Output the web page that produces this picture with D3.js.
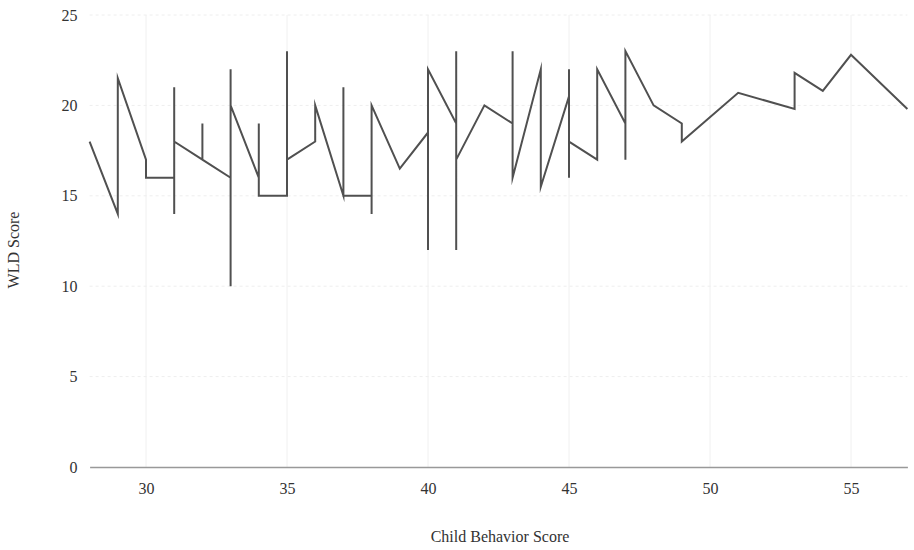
<!DOCTYPE html>
<html>
<head>
<meta charset="utf-8">
<script src="https://cdn.jsdelivr.net/npm/d3@7/dist/d3.min.js"></script>
<style>
  html, body { margin: 0; padding: 0; background: #fff; }
  svg { display: block; }
  text { font-family: "Liberation Serif", "DejaVu Serif", serif; fill: #333; }
</style>
</head>
<body>
<svg id="chart" width="914" height="550"></svg>
<script>
// Child Behavior Score (x) and WLD Score (y), in drawing order
const behaviorScores = [28,29,29,30,30,31,31,31,31,32,32,32,33,33,33,33,34,34,34,35,35,35,36,36,37,37,37,38,38,38,39,40,40,40,41,41,41,41,42,43,43,43,44,44,45,45,45,45,46,46,47,47,47,48,49,49,51,53,53,54,55,57];
const wldScores      = [18,14,21.5,17,16,16,14,21,18,17,19,17,16,10,22,20,16,19,15,15,23,17,18,20,15,21,15,15,14,20,16.5,18.5,12,22,19,23,12,17,20,19,23,16,22,15.5,20.5,22,16,18,17,22,19,17,23,20,19,18,20.7,19.8,21.8,20.8,22.8,19.8];
const xTicks = [30,35,40,45,50,55];
const yTicks = [0,5,10,15,20,25];
const xTitle = "Child Behavior Score";
const yTitle = "WLD Score";

const svg = d3.select("#chart");
const x = d3.scaleLinear().domain([28, 57]).range([89.6, 907.4]);
const y = d3.scaleLinear().domain([0, 25]).range([467, 15]);

const points = behaviorScores.map((v, i) => [v, wldScores[i]]);

// faint grid
svg.append("g").selectAll("line.vg").data(xTicks).join("line")
  .attr("x1", d => x(d)).attr("x2", d => x(d))
  .attr("y1", y(25)).attr("y2", y(0))
  .attr("stroke", "#f0f0f0").attr("stroke-width", 1);
svg.append("g").selectAll("line.hg").data(yTicks.filter(d => d > 0)).join("line")
  .attr("x1", x(28)).attr("x2", x(57))
  .attr("y1", d => y(d)).attr("y2", d => y(d))
  .attr("stroke", "#eeeeee").attr("stroke-width", 1).attr("stroke-dasharray", "3,3");

// x axis
const xAxis = d3.axisBottom(x).tickValues(xTicks).tickSize(0).tickPadding(16);
const gx = svg.append("g").attr("transform", `translate(0,${y(0)})`).call(xAxis);
gx.select(".domain").attr("stroke", "#999").attr("stroke-width", 1.5);
gx.selectAll("text").attr("font-size", 16).attr("fill", "#333")
  .style("font-family", '"Liberation Serif", serif');

// y axis
const yAxis = d3.axisLeft(y).tickValues(yTicks).tickSize(0).tickPadding(6);
const gy = svg.append("g").attr("transform", `translate(${x(28) - 6},0)`).call(yAxis);
gy.select(".domain").remove();
gy.selectAll("text").attr("font-size", 16).attr("fill", "#333")
  .style("font-family", '"Liberation Serif", serif');

// line
const line = d3.line().x(d => x(d[0])).y(d => y(d[1]));
svg.append("path").datum(points)
  .attr("d", line)
  .attr("fill", "none")
  .attr("stroke", "#505050")
  .attr("stroke-width", 2)
  .attr("stroke-linejoin", "miter")
  .attr("stroke-miterlimit", 10);

// titles
svg.append("text").attr("x", 500).attr("y", 542)
  .attr("text-anchor", "middle").attr("font-size", 16).text(xTitle);
svg.append("text").attr("transform", "translate(19,250) rotate(-90)")
  .attr("text-anchor", "middle").attr("font-size", 16).text(yTitle);
</script>
</body>
</html>
